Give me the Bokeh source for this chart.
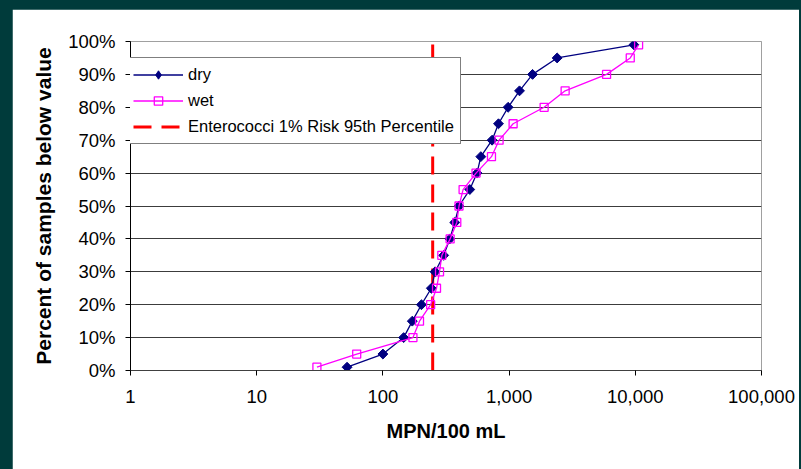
import math
from bokeh.plotting import figure
from bokeh.models import (FixedTicker, NumeralTickFormatter, PrintfTickFormatter,
                          Legend, LegendItem, Column, Range1d)
from bokeh.embed import file_html
from bokeh.resources import INLINE

# ---- data ----
pct = [1, 5, 10, 15, 20, 25, 30, 35, 40, 45, 50, 55, 60, 65, 70, 75, 80, 85, 90, 95, 99]
dry_mpn = [52, 100, 146, 171, 202, 242, 259, 303, 339, 371, 401, 488, 557, 597,
           733, 824, 982, 1209, 1534, 2403, 9750]
wet_mpn = [30, 62, 173, 195, 239, 266, 281, 293, 341, 385, 401, 432, 547, 725,
           833, 1076, 1895, 2780, 5920, 9120, 10620]
threshold_mpn = 248
threshold_span = [0, 100]
x_ticks = [1, 10, 100, 1000, 10000, 100000]
y_ticks = [0, 10, 20, 30, 40, 50, 60, 70, 80, 90, 100]
series_names = ["dry", "wet", "Enterococci 1% Risk 95th Percentile"]

FONT = "Liberation Sans"

p = figure(width=787, height=460, x_axis_type="log",
           x_range=Range1d(1, 100000), y_range=Range1d(0, 100),
           output_backend="svg", toolbar_location=None,
           min_border_left=118, min_border_right=38,
           min_border_top=32, min_border_bottom=99,
           background_fill_color="white", border_fill_color="white")
p.margin = (9, 2, 0, 12)

p.outline_line_color = "#a0a0a0"
p.outline_line_width = 1
p.xgrid.visible = False
p.ygrid.grid_line_color = "#3c3c3c"
p.ygrid.grid_line_width = 1
p.ygrid.ticker = FixedTicker(ticks=y_ticks)

# axes
p.xaxis.ticker = FixedTicker(ticks=x_ticks)
p.xaxis.formatter = NumeralTickFormatter(format="0,0")
p.yaxis.ticker = FixedTicker(ticks=y_ticks)
p.yaxis.formatter = PrintfTickFormatter(format="%d%%")
for ax in (p.xaxis, p.yaxis):
    ax.major_label_text_font = FONT
    ax.major_label_text_font_size = "18.5px"
    ax.major_label_text_color = "black"
    ax.axis_label_text_font = FONT
    ax.axis_label_text_font_style = "bold"
    ax.axis_label_text_color = "black"
    ax.major_tick_in = 0
    ax.major_tick_out = 5
    ax.minor_tick_in = 0
    ax.minor_tick_out = 0
    ax.major_tick_line_color = "black"
p.xaxis.axis_line_color = "#404040"
p.yaxis.axis_line_color = "black"
p.xaxis.axis_label = "MPN/100 mL"
p.yaxis.axis_label = "Percent of samples below value"
p.xaxis.axis_label_text_font_size = "20px"
p.yaxis.axis_label_text_font_size = "21px"
p.xaxis.major_label_standoff = 14
p.yaxis.major_label_standoff = 10
p.xaxis.axis_label_standoff = 14
p.yaxis.axis_label_standoff = 10

# threshold line
thr = p.line(x=[threshold_mpn, threshold_mpn], y=threshold_span,
             line_color="#ff0000", line_width=3, line_dash="18 10")

# series
dry_line = p.line(dry_mpn, pct, line_color="#000080", line_width=1.3)
dry_pts = p.scatter(dry_mpn, pct, marker="square", size=7, angle=math.pi / 4,
                    fill_color="#000080", line_color="#000080")
# hidden legend-only proxy so the legend key shows a diamond symbol
dry_key = p.scatter(dry_mpn, pct, marker="diamond", size=12, visible=False,
                    fill_color="#000080", line_color="#000080")
wet_line = p.line(wet_mpn, pct, line_color="#ff00ff", line_width=1.3)
wet_pts = p.scatter(wet_mpn, pct, marker="square", size=8,
                    fill_color=None, line_color="#ff00ff", line_width=1.3)

legend = Legend(items=[
    LegendItem(label=series_names[0], renderers=[dry_line, dry_key]),
    LegendItem(label=series_names[1], renderers=[wet_line, wet_pts]),
    LegendItem(label=series_names[2], renderers=[thr]),
], location=(-4, 226))
legend.label_text_font = FONT
legend.label_text_font_size = "16.5px"
legend.label_text_color = "black"
legend.glyph_width = 50
legend.glyph_height = 21
legend.spacing = 5
legend.padding = 6
legend.margin = 0
legend.label_standoff = 5
legend.border_line_color = "black"
legend.border_line_width = 1
legend.background_fill_color = "white"
legend.background_fill_alpha = 1
legend.inactive_fill_alpha = 0
p.add_layout(legend)

root = Column(p, width=801, height=469,
              styles={"background-color": "#003b3b"})

open("out.html", "w").write(file_html(root, INLINE))
